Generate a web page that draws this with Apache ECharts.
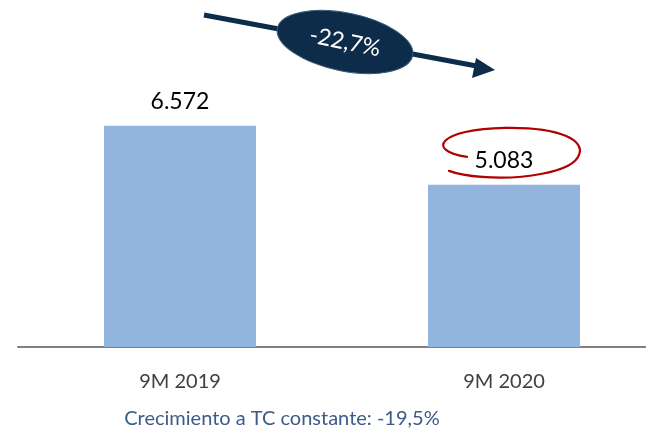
<!DOCTYPE html>
<html lang="es">
<head>
    <meta charset="UTF-8">
    <title>9M 2019 vs 9M 2020</title>
    <script src="https://cdn.jsdelivr.net/npm/echarts@6/dist/echarts.min.js"></script>
    <style>
        html, body { margin: 0; padding: 0; background: #fff; }
    </style>
</head>
<body>
    <div id="main" style="width:646px; height:432px"></div>
    <script type="text/javascript">
        // datos
        var categories = ['9M 2019', '9M 2020'];
        var values = [6572, 5083];
        var valueLabels = ['6.572', '5.083'];
        var variation = '-22,7%';
        var footnote = 'Crecimiento a TC constante: -19,5%';

        var font = 'Lato, "Open Sans", sans-serif';
        var chart = echarts.init(document.getElementById('main'));

        var option = {
            animation: false,
            grid: { left: 18, right: -20, top: 69, bottom: 85, outerBoundsMode: 'none' },
            xAxis: {
                type: 'category',
                data: categories,
                axisLine: { lineStyle: { color: '#808080', width: 2 } },
                axisTick: { show: false },
                axisLabel: { color: '#404040', fontSize: 20, fontFamily: font, margin: 25 }
            },
            yAxis: {
                type: 'value',
                min: 1000,
                max: 8000,
                show: false,
                splitLine: { show: false }
            },
            series: [{
                type: 'bar',
                barWidth: 152,
                data: values,
                itemStyle: { color: '#92B5DE' },
                label: {
                    show: true,
                    position: 'top',
                    distance: 13,
                    color: '#000',
                    fontSize: 23,
                    fontFamily: font,
                    formatter: function (p) { return valueLabels[p.dataIndex]; }
                }
            }]
        };
        chart.setOption(option);

        // anotaciones
        var p2 = chart.convertToPixel({ xAxisIndex: 0, yAxisIndex: 0 }, [1, values[1]]);
        var cx = p2[0] + 3, cy = p2[1] - 34;
        // trazo a mano alrededor de 5.083 (curvas de bezier relativas al centro)
        var loop = [
            [-40, 6, -82, 0, -68, -22, -2, -23],
            [-2, -23, 55, -24, 78, -10, 72, 4],
            [72, 4, 66, 22, 12, 29, -25, 26],
            [-25, 26, -40, 25, -50, 23, -58, 20]
        ];
        var loopGraphics = loop.map(function (s) {
            return {
                type: 'bezierCurve',
                x: cx, y: cy,
                shape: { x1: s[0], y1: s[1], cpx1: s[2], cpy1: s[3], cpx2: s[4], cpy2: s[5], x2: s[6], y2: s[7] },
                style: { fill: 'none', stroke: '#B00000', lineWidth: 2.2, lineCap: 'round' }
            };
        });

        chart.setOption({
            graphic: [
                {
                    type: 'line',
                    shape: { x1: 204, y1: 15, x2: 482, y2: 67 },
                    style: { stroke: '#0D2C4A', lineWidth: 5 }
                },
                {
                    type: 'polygon',
                    shape: { points: [[495, 70], [476, 58], [472, 78]] },
                    style: { fill: '#0D2C4A' }
                },
                {
                    type: 'ellipse',
                    x: 345, y: 42,
                    rotation: -0.2,
                    shape: { cx: 0, cy: 0, rx: 69, ry: 29 },
                    style: { fill: '#0D2C4A', stroke: '#3A5A7A', lineWidth: 1 }
                },
                {
                    type: 'text',
                    x: 345, y: 42,
                    rotation: -0.2,
                    style: {
                        text: variation, fill: '#fff', fontSize: 23, fontFamily: font,
                        align: 'center', verticalAlign: 'middle'
                    }
                },
                {
                    type: 'text',
                    x: 282, y: 419,
                    style: {
                        text: footnote, fill: '#3E5A86', fontSize: 20, fontFamily: font,
                        align: 'center', verticalAlign: 'middle'
                    }
                }
            ].concat(loopGraphics)
        });
    </script>
</body>
</html>
